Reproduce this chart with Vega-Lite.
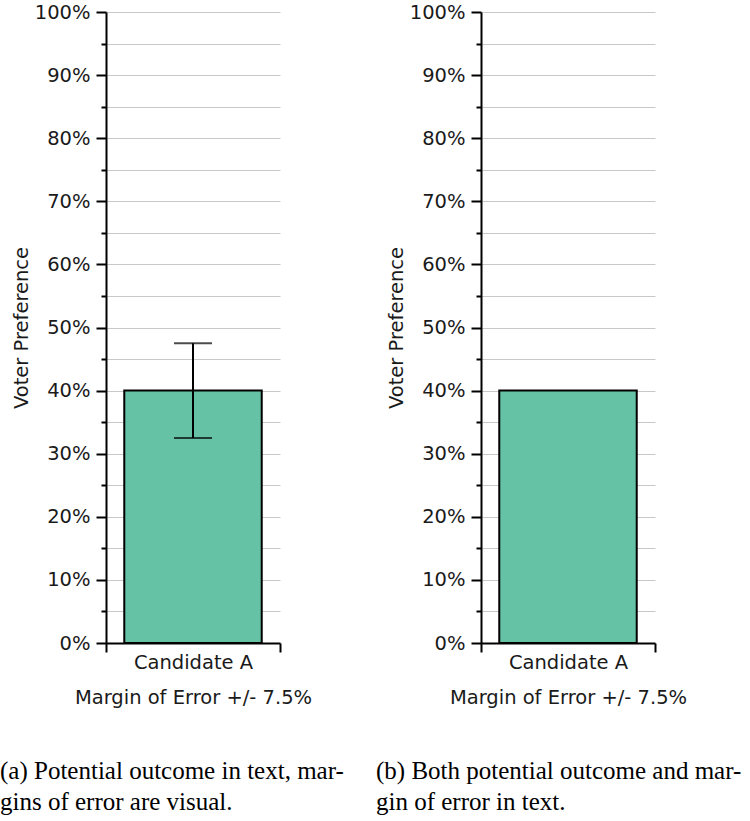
{
  "$schema": "https://vega.github.io/schema/vega-lite/v6.json",
  "padding": {"left": 0, "top": 2, "right": 5, "bottom": 5},
  "background": "white",
  "datasets": {
    "poll": [
      {"candidate": "Candidate A", "preference": 0.40, "lower": 0.325, "upper": 0.475}
    ]
  },
  "config": {
    "view": {"stroke": null},
    "font": "DejaVu Sans",
    "axis": {
      "domainColor": "black",
      "domainWidth": 2,
      "tickColor": "black",
      "tickWidth": 2,
      "labelFont": "DejaVu Sans",
      "labelFontSize": 19.5,
      "labelColor": "#1a1a1a",
      "titleFont": "DejaVu Sans",
      "titleFontSize": 19.5,
      "titleFontWeight": "normal",
      "titleColor": "#1a1a1a",
      "gridColor": "#c8c8c8",
      "gridWidth": 1
    },
    "axisY": {
      "values": [0, 0.05, 0.1, 0.15, 0.2, 0.25, 0.3, 0.35, 0.4, 0.45, 0.5, 0.55, 0.6, 0.65, 0.7, 0.75, 0.8, 0.85, 0.9, 0.95, 1],
      "format": ".0%",
      "labelExpr": "round(datum.value*100) % 10 === 0 ? datum.label : ''",
      "labelOverlap": false,
      "tickSize": {"condition": {"test": "round(datum.value*100) % 10 === 0", "value": 10}, "value": 5},
      "grid": true,
      "labelPadding": 6,
      "titlePadding": 3
    }
  },
  "bounds": "flush",
  "spacing": 201,
  "hconcat": [
    {
      "width": 174,
      "height": 631,
      "data": {"name": "poll"},
      "title": {
        "text": ["(a) Potential outcome in text, mar-", "gins of error are visual."],
        "orient": "bottom",
        "anchor": "start",
        "frame": "group",
        "dx": -106,
        "offset": 52,
        "font": "Liberation Serif",
        "fontSize": 25,
        "fontWeight": "normal",
        "color": "black",
        "lineHeight": 31
      },
      "encoding": {
        "x": {
          "field": "candidate",
          "type": "nominal",
          "scale": {"paddingInner": 0, "paddingOuter": 0},
          "axis": {
            "title": "Margin of Error +/- 7.5%",
            "labelAngle": 0,
            "tickBand": "extent",
            "tickSize": 9,
            "labelPadding": 1,
            "titlePadding": 17
          }
        }
      },
      "layer": [
        {
          "mark": {"type": "bar", "fill": "#66c2a5", "stroke": "black", "strokeWidth": 2, "width": {"band": 0.79}},
          "encoding": {
            "y": {
              "field": "preference",
              "type": "quantitative",
              "title": "Voter Preference",
              "scale": {"domain": [0, 1]}
            }
          }
        },
        {
          "mark": {"type": "rule", "color": "black", "strokeWidth": 2},
          "encoding": {
            "y": {"field": "lower", "type": "quantitative", "title": "Voter Preference"},
            "y2": {"field": "upper"}
          }
        },
        {
          "mark": {"type": "tick", "orient": "horizontal", "size": 38, "thickness": 2, "color": "black"},
          "encoding": {
            "y": {"field": "lower", "type": "quantitative", "title": "Voter Preference"}
          }
        },
        {
          "mark": {"type": "tick", "orient": "horizontal", "size": 38, "thickness": 2, "color": "black"},
          "encoding": {
            "y": {"field": "upper", "type": "quantitative", "title": "Voter Preference"}
          }
        }
      ]
    },
    {
      "width": 174,
      "height": 631,
      "data": {"name": "poll"},
      "title": {
        "text": ["(b) Both potential outcome and mar-", "gin of error in text."],
        "orient": "bottom",
        "anchor": "start",
        "frame": "group",
        "dx": -105,
        "offset": 52,
        "font": "Liberation Serif",
        "fontSize": 25,
        "fontWeight": "normal",
        "color": "black",
        "lineHeight": 31
      },
      "encoding": {
        "x": {
          "field": "candidate",
          "type": "nominal",
          "scale": {"paddingInner": 0, "paddingOuter": 0},
          "axis": {
            "title": "Margin of Error +/- 7.5%",
            "labelAngle": 0,
            "tickBand": "extent",
            "tickSize": 9,
            "labelPadding": 1,
            "titlePadding": 17
          }
        }
      },
      "layer": [
        {
          "mark": {"type": "bar", "fill": "#66c2a5", "stroke": "black", "strokeWidth": 2, "width": {"band": 0.79}},
          "encoding": {
            "y": {
              "field": "preference",
              "type": "quantitative",
              "title": "Voter Preference",
              "scale": {"domain": [0, 1]}
            }
          }
        }
      ]
    }
  ]
}
